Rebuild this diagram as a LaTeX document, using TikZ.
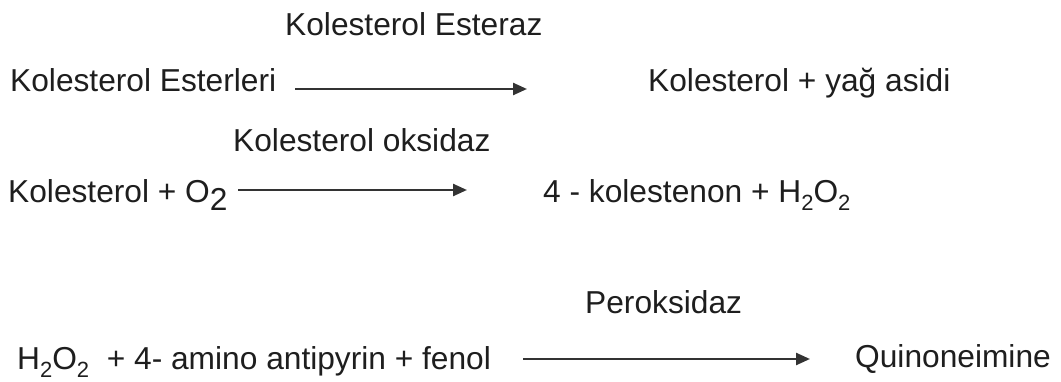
\documentclass[tikz,border=0pt]{standalone}
\usepackage{fontspec}
\setmainfont{Liberation Sans}
\usetikzlibrary{arrows.meta}
\definecolor{ink}{HTML}{1E1E1E}
\definecolor{arrowink}{HTML}{333333}
% lowered index digits (small and full-size variants)
\newcommand{\idx}[1]{\raisebox{-8pt}{\fontsize{22}{22}\selectfont #1}}
\newcommand{\bigidx}[1]{\raisebox{-8pt}{#1}}
\begin{document}
\begin{tikzpicture}[x=1pt,y=-1pt,
  txt/.style={anchor=base west,inner sep=0pt,text=ink,font=\fontsize{31.7}{36}\selectfont},
  rxn/.style={draw=arrowink,line width=2.4pt,-{Triangle[length=14pt,width=12pt]}}]
\useasboundingbox[fill=white] (0,0) rectangle (1061,382);

% cholesterol ester hydrolysis
\node[txt] (enz1) at (285,36) {Kolesterol Esteraz};
\node[txt] (sub1) at (10,92) {Kolesterol Esterleri};
\node[txt] (prod1) at (648,92) {Kolesterol + yağ asidi};
\coordinate (a1s) at (295,89);
\coordinate (a1e) at (527,89);
\draw[rxn] (a1s) -- (a1e);

% cholesterol oxidation
\node[txt] (enz2) at (233,152) {Kolesterol oksidaz};
\node[txt] (sub2) at (8,203) {Kolesterol + O\bigidx{2}};
\node[txt] (prod2) at (543,203) {4 - kolestenon + H\idx{2}O\idx{2}};
\coordinate (a2s) at (238,190);
\coordinate (a2e) at (467,190);
\draw[rxn] (a2s) -- (a2e);

% peroxidase colour reaction
\node[txt] (enz3) at (585,313) {Peroksidaz};
\node[txt] (sub3) at (17,370) {H\idx{2}O\idx{2}\ \ + 4- amino antipyrin + fenol};
\node[txt] (prod3) at (855,367) {Quinoneimine};
\coordinate (a3s) at (523,359);
\coordinate (a3e) at (810,359);
\draw[rxn] (a3s) -- (a3e);
\end{tikzpicture}
\end{document}
